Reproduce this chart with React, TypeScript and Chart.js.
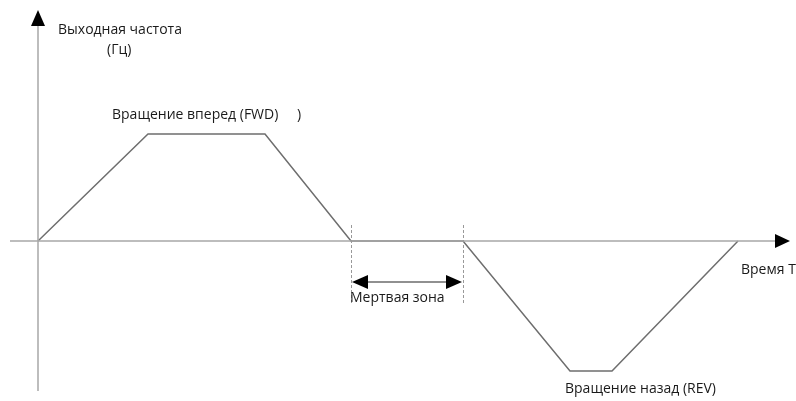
import React, { useEffect, useRef } from "react";
import { Chart, registerables } from "chart.js";

Chart.register(...registerables);

// time (x) and output frequency (y) of the profile
const timeValues = [0, 110, 227, 313, 425, 532, 574, 700];
const freqValues = [0, 107, 107, 0, 0, -130, -130, 0];
// dead zone between end of FWD and start of REV
const deadZone = [313, 425];

const axisTitleY = ["Выходная частота", "(Гц)"];
const axisTitleX = "Время T";
const fwdLabel = "Вращение вперед (FWD)";
const revLabel = "Вращение назад (REV)";
const deadLabel = "Мертвая зона";

const FONT = "14px 'Open Sans', 'Noto Sans', sans-serif";

function arrowHead(ctx: CanvasRenderingContext2D, x: number, y: number, dir: "up" | "right" | "left", len: number, half: number) {
  ctx.beginPath();
  if (dir === "up") {
    ctx.moveTo(x, y);
    ctx.lineTo(x - half, y + len);
    ctx.lineTo(x + half, y + len);
  } else if (dir === "right") {
    ctx.moveTo(x, y);
    ctx.lineTo(x - len, y - half);
    ctx.lineTo(x - len, y + half);
  } else {
    ctx.moveTo(x, y);
    ctx.lineTo(x + len, y - half);
    ctx.lineTo(x + len, y + half);
  }
  ctx.closePath();
  ctx.fill();
}

const diagramPlugin = {
  id: "diagram",
  afterDatasetsDraw(chart: any) {
    const ctx: CanvasRenderingContext2D = chart.ctx;
    const xs = chart.scales.x;
    const ys = chart.scales.y;
    const X = (v: number) => xs.getPixelForValue(v);
    const Y = (v: number) => ys.getPixelForValue(v);
    ctx.save();
    // axes
    ctx.strokeStyle = "#a8a8a8";
    ctx.lineWidth = 1.5;
    ctx.beginPath();
    ctx.moveTo(X(-28), Y(0));
    ctx.lineTo(X(740), Y(0));
    ctx.moveTo(X(0), Y(-150));
    ctx.lineTo(X(0), Y(218));
    ctx.stroke();
    ctx.fillStyle = "#000";
    arrowHead(ctx, X(752), Y(0), "right", 15, 7);
    arrowHead(ctx, X(0), Y(231), "up", 16, 7);

    // dashed dead-zone lines
    ctx.strokeStyle = "#999";
    ctx.lineWidth = 1;
    ctx.setLineDash([3, 2]);
    ctx.beginPath();
    for (const t of deadZone) {
      ctx.moveTo(X(t) + 0.5, Y(16));
      ctx.lineTo(X(t) + 0.5, Y(-64));
    }
    ctx.stroke();
    ctx.setLineDash([]);

    // double arrow
    const ay = Y(-41);
    ctx.strokeStyle = "#222";
    ctx.lineWidth = 1.2;
    ctx.beginPath();
    ctx.moveTo(X(deadZone[0]) + 12, ay);
    ctx.lineTo(X(deadZone[1]) - 12, ay);
    ctx.stroke();
    ctx.fillStyle = "#000";
    arrowHead(ctx, X(deadZone[0]) + 1, ay, "left", 16, 7);
    arrowHead(ctx, X(deadZone[1]) - 1, ay, "right", 16, 7);

    // labels
    ctx.font = FONT;
    ctx.fillStyle = "#1a1a1a";
    ctx.textBaseline = "middle";
    ctx.textAlign = "left";
    ctx.fillText(axisTitleY[0], X(20), Y(211));
    ctx.fillText(axisTitleY[1], X(69), Y(191));
    ctx.fillText(fwdLabel, X(74), Y(126));
    ctx.fillText(")", X(259), Y(126));
    ctx.fillText(axisTitleX, X(703), Y(-29));
    ctx.fillText(deadLabel, X(312), Y(-57));
    ctx.fillText(revLabel, X(527), Y(-148));
    ctx.restore();
  },
};

export default function App() {
  const ref = useRef<HTMLCanvasElement | null>(null);
  useEffect(() => {
    document.body.style.margin = "0";
    const chart = new Chart(ref.current as HTMLCanvasElement, {
      type: "line",
      data: {
        datasets: [
          {
            data: timeValues.map((t, i) => ({ x: t, y: freqValues[i] })),
            borderColor: "#6e6e6e",
            borderWidth: 1.5,
            pointRadius: 0,
            fill: false,
            tension: 0,
          },
        ],
      },
      options: {
        animation: false,
        responsive: false,
        devicePixelRatio: 1,
        layout: { padding: 0 },
        plugins: { legend: { display: false }, tooltip: { enabled: false } },
        scales: {
          x: { type: "linear", min: -38, max: 758, display: false },
          y: { type: "linear", min: -160, max: 241, display: false },
        },
      },
      plugins: [diagramPlugin],
    });
    return () => chart.destroy();
  }, []);
  return (
    <div style={{ position: "absolute", left: 0, top: 0, width: 796, height: 401, background: "#fff" }}>
      <canvas ref={ref} width={796} height={401} />
    </div>
  );
}
